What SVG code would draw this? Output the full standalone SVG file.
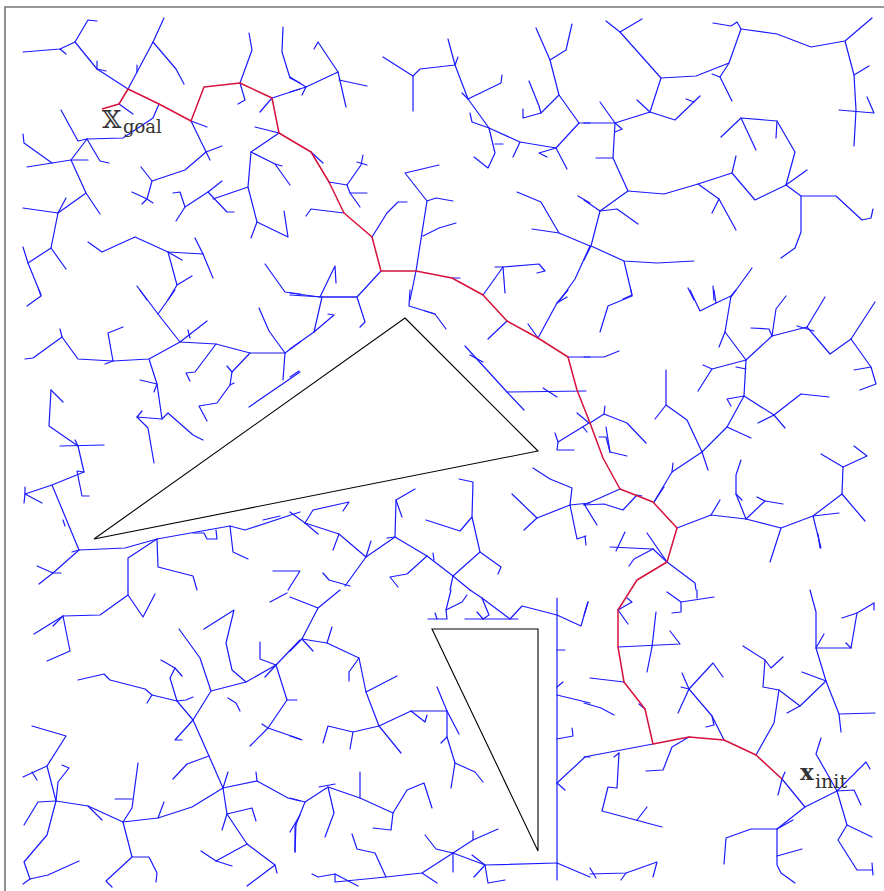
<svg xmlns="http://www.w3.org/2000/svg" width="884" height="891" viewBox="0 0 884 891">
<style>
.b{fill:none;stroke:#1a1aff;stroke-width:1.2;stroke-linejoin:round;stroke-linecap:round}
.r{fill:none;stroke:#d6123c;stroke-width:1.5;stroke-linejoin:round}
.o{fill:none;stroke:#000;stroke-width:1.1;stroke-linejoin:miter}
.lbl{fill:#333;font-family:"DejaVu Serif","Liberation Serif",serif}
</style>
<rect width="884" height="891" fill="#fff"/>
<path d="M5,895 V7 H890" fill="none" stroke="#777" stroke-width="1.6"/>
<g id="obstacles">
<polygon id="obstacle1" class="o" points="405,318 538,451 94,539"/>
<polygon id="obstacle2" class="o" points="432,629 538,629 538,851"/>
</g>
<g id="tree">
<!-- zoom1 region -->
<polyline class="b" points="23,52 60,49 75,42 88,20 97,21"/>
<polyline class="b" points="60,49 66,54"/>
<polyline class="b" points="75,42 97,69 128,89"/>
<polyline class="b" points="97,69 106,71"/>
<polyline class="b" points="97,61 97,69"/>
<polyline class="b" points="128,89 153,42 164,18"/>
<polyline class="b" points="153,42 176,69 184,84"/>
<polyline class="b" points="137,65 137,72"/>
<polyline class="b" points="119,104 133,114"/>
<polyline class="b" points="159,104 153,118 123,138 87,139"/>
<polyline class="b" points="87,139 71,160 52,163 27,167"/>
<polyline class="b" points="61,110 78,141 87,139"/>
<polyline class="b" points="87,139 100,161 109,163"/>
<polyline class="b" points="71,160 88,160"/>
<polyline class="b" points="52,163 24,143 23,134"/>
<polyline class="b" points="71,160 86,193 100,214"/>
<polyline class="b" points="86,193 58,213 51,248 28,263 41,295"/>
<polyline class="b" points="58,213 23,208"/>
<polyline class="b" points="58,213 66,198"/>
<polyline class="b" points="51,248 66,269"/>
<polyline class="b" points="28,263 23,247"/>
<polyline class="b" points="191,121 207,127"/>
<polyline class="b" points="191,121 210,160"/>
<polyline class="b" points="206,152 222,146"/>
<polyline class="b" points="206,152 185,170 152,181 141,167"/>
<polyline class="b" points="152,181 147,199 153,203"/>
<polyline class="b" points="132,192 147,199 142,204"/>
<polyline class="b" points="240,83 245,100 238,104"/>
<polyline class="b" points="240,83 252,50 249,33"/>
<polyline class="b" points="283,27 282,52 290,78 300,83"/>
<polyline class="b" points="272,98 260,112"/>
<polyline class="b" points="272,98 300,89"/>
<polyline class="b" points="279,133 255,127"/>
<polyline class="b" points="279,133 251,152 248,187 257,222 288,237 284,211"/>
<polyline class="b" points="257,222 251,238"/>
<polyline class="b" points="251,152 275,164 290,185"/>
<polyline class="b" points="275,164 282,166"/>
<polyline class="b" points="248,187 213,199"/>
<polyline class="b" points="222,181 208,192 185,207 176,221"/>
<polyline class="b" points="208,192 227,212 234,212"/>
<polyline class="b" points="185,207 180,192 173,193"/>
<polyline class="b" points="88,242 102,252 135,237 168,252 177,285 168,300"/>
<polyline class="b" points="168,252 203,254 213,278"/>
<polyline class="b" points="195,238 203,254"/>
<polyline class="b" points="177,285 192,276"/>
<polyline class="b" points="168,252 182,260"/>
<polyline class="b" points="265,264 285,292 300,294"/>
<polyline class="b" points="137,286 147,300"/>
<!-- zoom2 region -->
<polyline class="b" points="290,77 306,87 338,72 318,42 314,49"/>
<polyline class="b" points="290,92 306,87 302,95"/>
<polyline class="b" points="338,72 346,107"/>
<polyline class="b" points="339,80 367,86"/>
<polyline class="b" points="383,57 413,76 413,111"/>
<polyline class="b" points="413,76 420,69 455,65 448,39"/>
<polyline class="b" points="455,65 458,57"/>
<polyline class="b" points="455,65 468,99 489,128 520,142 556,148 579,123 590,123"/>
<polyline class="b" points="468,99 501,83 502,75"/>
<polyline class="b" points="462,93 468,99"/>
<polyline class="b" points="489,128 472,122 470,113"/>
<polyline class="b" points="489,128 495,153 488,168 474,157"/>
<polyline class="b" points="495,144 503,144"/>
<polyline class="b" points="520,142 513,157"/>
<polyline class="b" points="556,148 567,169"/>
<polyline class="b" points="556,148 539,153 547,157"/>
<polyline class="b" points="579,123 559,95 550,60 536,28"/>
<polyline class="b" points="550,60 566,50 572,24"/>
<polyline class="b" points="559,95 541,113 523,118 523,109"/>
<polyline class="b" points="541,113 539,106 529,81"/>
<polyline class="b" points="311,152 323,163"/>
<polyline class="b" points="329,182 347,185 361,165 363,155"/>
<polyline class="b" points="357,162 367,165"/>
<polyline class="b" points="347,185 350,193 360,207"/>
<polyline class="b" points="350,193 367,193"/>
<polyline class="b" points="344,213 311,209 306,216"/>
<polyline class="b" points="372,237 387,213 398,202 407,202"/>
<polyline class="b" points="416,271 427,201 405,173 439,165"/>
<polyline class="b" points="427,201 436,198 453,201"/>
<polyline class="b" points="423,236 439,228 456,223"/>
<polyline class="b" points="416,271 410,300"/>
<polyline class="b" points="381,271 357,297 320,297 290,293"/>
<polyline class="b" points="320,297 335,266 336,283"/>
<polyline class="b" points="452,278 460,278"/>
<polyline class="b" points="483,295 503,267 539,264 545,271 537,273"/>
<polyline class="b" points="503,267 505,293"/>
<polyline class="b" points="495,267 503,267"/>
<polyline class="b" points="517,192 541,202 559,233 590,246"/>
<polyline class="b" points="532,229 559,233"/>
<polyline class="b" points="590,246 575,279 560,300"/>
<polyline class="b" points="578,196 590,203"/>
<!-- zoom3 region -->
<polyline class="b" points="606,21 620,32 642,19"/>
<polyline class="b" points="620,32 661,78 650,112 615,123 584,123"/>
<polyline class="b" points="661,78 696,76 729,63 741,29 737,22 731,26 713,23"/>
<polyline class="b" points="741,29 777,34 811,47 845,41 872,18"/>
<polyline class="b" points="845,41 854,75 856,110 854,146"/>
<polyline class="b" points="854,75 869,66"/>
<polyline class="b" points="839,110 874,113 867,97"/>
<polyline class="b" points="729,63 720,77 732,101"/>
<polyline class="b" points="712,74 720,77"/>
<polyline class="b" points="650,112 637,100"/>
<polyline class="b" points="650,112 675,120 700,96"/>
<polyline class="b" points="686,99 694,102"/>
<polyline class="b" points="615,123 600,102"/>
<polyline class="b" points="615,123 622,129 615,132"/>
<polyline class="b" points="615,123 613,158 628,191 600,211 584,200"/>
<polyline class="b" points="613,158 596,158"/>
<polyline class="b" points="628,191 664,194 698,184 732,173 755,200 786,185 801,196 836,196 862,220 871,218 873,209"/>
<polyline class="b" points="732,173 736,156"/>
<polyline class="b" points="698,184 719,199 736,230"/>
<polyline class="b" points="719,199 712,213"/>
<polyline class="b" points="786,185 795,152 777,121 741,118 721,137"/>
<polyline class="b" points="777,121 776,138"/>
<polyline class="b" points="741,118 756,150"/>
<polyline class="b" points="786,185 807,170"/>
<polyline class="b" points="801,196 801,232 795,248 781,258"/>
<polyline class="b" points="600,211 617,209 638,224"/>
<polyline class="b" points="600,211 591,246 584,260"/>
<polyline class="b" points="591,246 624,261 657,263 694,261"/>
<polyline class="b" points="624,261 632,295 623,299"/>
<polyline class="b" points="731,297 752,268"/>
<polyline class="b" points="688,288 694,300"/>
<polyline class="b" points="713,286 714,300"/>
<!-- zoom4 region -->
<polyline class="b" points="27,306 41,296 39,290"/>
<polyline class="b" points="140,290 158,314 175,290"/>
<polyline class="b" points="158,314 180,342 207,321"/>
<polyline class="b" points="188,330 190,338"/>
<polyline class="b" points="180,342 216,344 250,353 285,353 300,342"/>
<polyline class="b" points="216,344 195,372 186,373 190,381"/>
<polyline class="b" points="250,353 232,372 230,385 217,403 199,406 207,421"/>
<polyline class="b" points="227,366 232,372"/>
<polyline class="b" points="230,385 234,383"/>
<polyline class="b" points="285,353 269,331 259,308"/>
<polyline class="b" points="300,372 249,407"/>
<polyline class="b" points="285,353 283,380"/>
<polyline class="b" points="180,342 149,359 113,361 78,359 62,337 33,358 25,359"/>
<polyline class="b" points="62,337 60,329"/>
<polyline class="b" points="113,361 108,333 123,327"/>
<polyline class="b" points="105,364 113,361"/>
<polyline class="b" points="149,359 157,384 162,419 168,413 193,435 203,440"/>
<polyline class="b" points="140,380 157,384 154,392"/>
<polyline class="b" points="162,419 137,417 148,428 154,463"/>
<polyline class="b" points="137,417 142,411"/>
<polyline class="b" points="51,390 63,402"/>
<polyline class="b" points="51,390 49,426 78,446 84,472 52,485 25,494 24,503"/>
<polyline class="b" points="25,494 42,503"/>
<polyline class="b" points="25,487 25,494"/>
<polyline class="b" points="60,446 104,445"/>
<polyline class="b" points="75,440 78,446"/>
<polyline class="b" points="84,472 77,471 82,496 89,496"/>
<polyline class="b" points="52,485 79,550 53,573 39,584"/>
<polyline class="b" points="79,550 72,552"/>
<polyline class="b" points="37,566 53,573 61,573"/>
<polyline class="b" points="63,520 65,526"/>
<polyline class="b" points="79,550 125,548 157,539 185,534 230,526 245,530 300,512"/>
<polyline class="b" points="157,539 158,567 193,576 197,590"/>
<polyline class="b" points="157,539 128,558 128,590"/>
<polyline class="b" points="193,533 204,533 207,539 217,539 216,530"/>
<polyline class="b" points="230,526 233,552 248,559"/>
<polyline class="b" points="273,571 300,571 288,590"/>
<polyline class="b" points="263,520 280,516"/>
<!-- zoom5 region -->
<polyline class="b" points="290,295 322,297 357,297 365,322 360,327"/>
<polyline class="b" points="322,297 314,332 290,349"/>
<polyline class="b" points="314,332 334,315 328,314"/>
<polyline class="b" points="299,371 290,377"/>
<polyline class="b" points="410,290 409,306 435,314 446,329"/>
<polyline class="b" points="425,311 435,314"/>
<polyline class="b" points="465,346 507,392 524,410"/>
<polyline class="b" points="470,355 483,362"/>
<polyline class="b" points="507,392 586,391"/>
<polyline class="b" points="543,388 557,397"/>
<polyline class="b" points="507,321 488,339"/>
<polyline class="b" points="538,338 557,303 568,290"/>
<polyline class="b" points="528,324 538,338"/>
<polyline class="b" points="557,303 567,297"/>
<polyline class="b" points="568,357 590,357"/>
<polyline class="b" points="589,423 577,413"/>
<polyline class="b" points="589,423 558,442 555,433"/>
<polyline class="b" points="558,442 557,450 574,450"/>
<polyline class="b" points="583,427 587,432"/>
<polyline class="b" points="459,479 473,482 472,517 460,531 426,520"/>
<polyline class="b" points="472,517 480,552 453,576 470,590"/>
<polyline class="b" points="480,552 501,567 498,574"/>
<polyline class="b" points="453,576 450,590"/>
<polyline class="b" points="453,576 427,556 395,537 396,500 415,489"/>
<polyline class="b" points="396,500 402,517"/>
<polyline class="b" points="395,537 366,557 345,586"/>
<polyline class="b" points="387,538 395,537"/>
<polyline class="b" points="366,557 371,541"/>
<polyline class="b" points="427,556 407,574 390,577 398,587"/>
<polyline class="b" points="433,553 434,560"/>
<polyline class="b" points="366,557 339,534 305,523 290,512"/>
<polyline class="b" points="339,534 333,550"/>
<polyline class="b" points="305,523 313,510 349,502 343,511"/>
<polyline class="b" points="305,523 318,534"/>
<polyline class="b" points="323,573 329,580 350,586"/>
<polyline class="b" points="533,468 550,479 572,488 570,505 577,539 586,536"/>
<polyline class="b" points="585,536 586,545"/>
<polyline class="b" points="570,505 537,518 512,494"/>
<polyline class="b" points="537,518 524,530"/>
<polyline class="b" points="570,505 590,503"/>
<!-- zoom6 region -->
<polyline class="b" points="631,290 632,296 608,306 600,332"/>
<polyline class="b" points="690,290 700,311 716,303 731,296 736,290"/>
<polyline class="b" points="714,290 716,303"/>
<polyline class="b" points="731,296 725,332 719,347"/>
<polyline class="b" points="725,332 746,360 744,396 727,427 702,452 672,472 654,502"/>
<polyline class="b" points="746,360 712,369 698,391"/>
<polyline class="b" points="703,365 712,369"/>
<polyline class="b" points="736,367 746,369"/>
<polyline class="b" points="746,360 772,336 807,327 825,297"/>
<polyline class="b" points="772,336 776,309 786,296"/>
<polyline class="b" points="751,328 769,329 772,336"/>
<polyline class="b" points="807,327 830,354 851,339 875,302"/>
<polyline class="b" points="851,339 871,367 876,384 860,390"/>
<polyline class="b" points="854,370 871,367"/>
<polyline class="b" points="797,326 814,331"/>
<polyline class="b" points="744,396 774,415 801,394 829,397"/>
<polyline class="b" points="774,415 758,423"/>
<polyline class="b" points="774,415 785,428"/>
<polyline class="b" points="744,396 727,399 731,406"/>
<polyline class="b" points="727,427 751,438"/>
<polyline class="b" points="702,452 687,420 666,405 666,370"/>
<polyline class="b" points="666,405 655,419"/>
<polyline class="b" points="702,452 708,470"/>
<polyline class="b" points="672,472 673,463"/>
<polyline class="b" points="654,502 664,487"/>
<polyline class="b" points="677,528 711,515 746,519 781,528 813,516 842,494 843,467 867,456 854,446"/>
<polyline class="b" points="843,467 821,454"/>
<polyline class="b" points="842,494 865,521"/>
<polyline class="b" points="711,515 720,500"/>
<polyline class="b" points="746,519 736,494 736,475 741,460"/>
<polyline class="b" points="736,494 742,500"/>
<polyline class="b" points="746,519 765,501 783,504"/>
<polyline class="b" points="757,497 765,501"/>
<polyline class="b" points="781,528 770,562"/>
<polyline class="b" points="813,516 821,548"/>
<polyline class="b" points="813,516 839,513"/>
<polyline class="b" points="818,534 820,548"/>
<polyline class="b" points="667,562 695,583 696,590"/>
<polyline class="b" points="667,562 647,533"/>
<polyline class="b" points="667,562 653,549 610,547"/>
<polyline class="b" points="653,549 634,559 629,566"/>
<polyline class="b" points="625,532 616,551"/>
<polyline class="b" points="620,489 584,505"/>
<polyline class="b" points="584,505 604,504 623,510 637,495 642,496"/>
<polyline class="b" points="590,423 604,414 627,423 646,443"/>
<polyline class="b" points="604,414 605,406"/>
<polyline class="b" points="599,437 606,437 610,452 627,456"/>
<polyline class="b" points="610,452 606,427"/>
<polyline class="b" points="584,504 597,525"/>
<polyline class="b" points="584,357 604,357 619,351"/>
<!-- zoom7 region -->
<polyline class="b" points="34,634 63,616 100,615 128,595 143,617 155,594"/>
<polyline class="b" points="128,595 128,590"/>
<polyline class="b" points="63,616 70,651 47,661"/>
<polyline class="b" points="53,626 63,616"/>
<polyline class="b" points="78,680 104,674 110,680 145,689 152,695 177,701 193,720 209,756 223,788 257,781 288,798 300,801"/>
<polyline class="b" points="152,695 147,703"/>
<polyline class="b" points="177,701 170,678 175,668 182,676"/>
<polyline class="b" points="161,660 175,668"/>
<polyline class="b" points="177,701 186,700 193,697"/>
<polyline class="b" points="193,720 175,740 182,740"/>
<polyline class="b" points="193,720 211,691 200,658 179,629"/>
<polyline class="b" points="211,691 246,682 232,670 226,643 234,610 204,629"/>
<polyline class="b" points="246,682 276,665 300,640"/>
<polyline class="b" points="276,665 260,659 260,642"/>
<polyline class="b" points="276,665 265,677"/>
<polyline class="b" points="276,665 287,700 268,728 250,746"/>
<polyline class="b" points="268,728 300,739"/>
<polyline class="b" points="268,728 262,724"/>
<polyline class="b" points="287,700 297,700"/>
<polyline class="b" points="228,698 236,703 240,711"/>
<polyline class="b" points="209,756 187,764 173,779"/>
<polyline class="b" points="223,788 227,814 247,844 275,865 247,886"/>
<polyline class="b" points="275,865 277,873"/>
<polyline class="b" points="227,814 252,808 256,821"/>
<polyline class="b" points="227,814 222,830"/>
<polyline class="b" points="223,788 228,772"/>
<polyline class="b" points="257,781 256,772"/>
<polyline class="b" points="247,844 216,861 201,851"/>
<polyline class="b" points="216,861 232,866"/>
<polyline class="b" points="223,788 192,807 158,818 123,822 88,806 56,801 47,766 66,736 32,726"/>
<polyline class="b" points="158,818 164,802"/>
<polyline class="b" points="123,822 132,857 149,857 157,873 156,882"/>
<polyline class="b" points="132,857 106,881 112,887"/>
<polyline class="b" points="123,822 132,808 138,763"/>
<polyline class="b" points="115,799 132,799"/>
<polyline class="b" points="88,806 102,820"/>
<polyline class="b" points="56,801 47,835 24,862 30,879 48,875 79,861"/>
<polyline class="b" points="30,879 23,884"/>
<polyline class="b" points="56,801 38,802 24,825"/>
<polyline class="b" points="47,766 23,777"/>
<polyline class="b" points="32,772 37,780"/>
<polyline class="b" points="56,801 58,782 69,768 62,765"/>
<polyline class="b" points="300,815 290,832"/>
<polyline class="b" points="296,823 295,852"/>
<polyline class="b" points="270,602 287,593"/>
<!-- zoom8 region -->
<polyline class="b" points="290,597 318,608 340,590"/>
<polyline class="b" points="318,608 302,639 290,651"/>
<polyline class="b" points="302,639 313,651"/>
<polyline class="b" points="302,639 327,643 359,658 349,672 349,681"/>
<polyline class="b" points="327,643 332,627"/>
<polyline class="b" points="359,658 366,692 379,726 401,753"/>
<polyline class="b" points="366,692 397,676"/>
<polyline class="b" points="379,726 353,732 328,726 323,743"/>
<polyline class="b" points="353,732 350,749"/>
<polyline class="b" points="379,726 411,711 447,711 447,737 455,763 475,772 483,782"/>
<polyline class="b" points="411,711 425,722 427,715"/>
<polyline class="b" points="447,711 437,687"/>
<polyline class="b" points="447,711 459,734"/>
<polyline class="b" points="455,763 451,788"/>
<polyline class="b" points="447,737 441,743"/>
<polyline class="b" points="290,736 302,740"/>
<polyline class="b" points="290,798 305,802 295,827 295,852"/>
<polyline class="b" points="305,802 328,787 334,813 325,837"/>
<polyline class="b" points="328,787 360,798 393,813 391,830 373,828"/>
<polyline class="b" points="360,798 360,772"/>
<polyline class="b" points="393,813 407,790 424,783 432,808"/>
<polyline class="b" points="319,787 335,784"/>
<polyline class="b" points="312,874 318,877 335,874 358,886"/>
<polyline class="b" points="335,874 335,882 386,877 422,873 453,853 473,840 498,829"/>
<polyline class="b" points="422,873 437,883"/>
<polyline class="b" points="453,853 485,865 557,863"/>
<polyline class="b" points="453,853 453,872"/>
<polyline class="b" points="425,835 436,849 453,853"/>
<polyline class="b" points="485,865 488,883 505,880"/>
<polyline class="b" points="472,855 485,865 474,877"/>
<polyline class="b" points="473,840 473,831"/>
<polyline class="b" points="352,834 357,849 375,853 386,877"/>
<polyline class="b" points="557,598 557,880"/>
<polyline class="b" points="557,863 590,877"/>
<polyline class="b" points="557,615 522,606 510,619 482,598 470,590"/>
<polyline class="b" points="557,615 581,626 588,602"/>
<polyline class="b" points="465,619 518,619"/>
<polyline class="b" points="482,598 489,615 483,619"/>
<polyline class="b" points="477,612 483,619"/>
<polyline class="b" points="428,619 447,619 446,610 462,602 467,595"/>
<polyline class="b" points="446,610 451,590"/>
<polyline class="b" points="435,613 437,619"/>
<polyline class="b" points="557,650 565,650"/>
<polyline class="b" points="557,687 563,682"/>
<polyline class="b" points="557,695 590,703"/>
<polyline class="b" points="557,739 573,736 572,728"/>
<polyline class="b" points="557,783 585,757 590,757"/>
<polyline class="b" points="557,783 565,790"/>
<!-- zoom9 region -->
<polyline class="b" points="584,615 588,602"/>
<polyline class="b" points="618,610 632,602 627,598"/>
<polyline class="b" points="618,610 628,624"/>
<polyline class="b" points="667,592 681,602 714,597"/>
<polyline class="b" points="681,602 681,612 672,613"/>
<polyline class="b" points="697,590 697,598"/>
<polyline class="b" points="618,647 680,644 670,631"/>
<polyline class="b" points="652,647 656,612"/>
<polyline class="b" points="652,647 647,672"/>
<polyline class="b" points="624,682 590,678"/>
<polyline class="b" points="584,703 601,708 614,715"/>
<polyline class="b" points="645,709 639,704"/>
<polyline class="b" points="653,744 584,757"/>
<polyline class="b" points="619,753 617,788 608,787 602,811 662,827"/>
<polyline class="b" points="637,820 647,807"/>
<polyline class="b" points="619,753 614,757"/>
<polyline class="b" points="689,737 672,747 663,770 646,771"/>
<polyline class="b" points="724,740 712,716 689,689 713,663 723,677"/>
<polyline class="b" points="689,689 682,673"/>
<polyline class="b" points="689,689 678,713"/>
<polyline class="b" points="712,716 714,725 706,727"/>
<polyline class="b" points="681,687 689,689"/>
<polyline class="b" points="756,755 774,723 779,690 763,687 765,660 743,646"/>
<polyline class="b" points="765,660 771,668 783,657"/>
<polyline class="b" points="779,690 800,706 826,681 802,672"/>
<polyline class="b" points="800,706 787,713"/>
<polyline class="b" points="826,681 816,648 816,612 810,590"/>
<polyline class="b" points="816,648 851,648 857,613 874,603"/>
<polyline class="b" points="857,613 842,618"/>
<polyline class="b" points="816,648 824,634"/>
<polyline class="b" points="851,648 846,643"/>
<polyline class="b" points="874,603 874,610"/>
<polyline class="b" points="826,681 839,714 841,732"/>
<polyline class="b" points="839,714 875,713"/>
<polyline class="b" points="782,779 778,795"/>
<polyline class="b" points="782,779 785,772"/>
<polyline class="b" points="782,779 805,807 837,791 847,825 872,837"/>
<polyline class="b" points="837,791 866,762 870,769"/>
<polyline class="b" points="837,791 816,754 821,738"/>
<polyline class="b" points="837,791 854,790 861,805"/>
<polyline class="b" points="847,825 838,840 857,870 872,870"/>
<polyline class="b" points="872,863 873,875"/>
<polyline class="b" points="805,807 777,829 751,829 726,838 724,864"/>
<polyline class="b" points="777,829 777,865 781,873 795,883"/>
<polyline class="b" points="777,856 802,849"/>
<polyline class="b" points="777,829 793,820"/>
<polyline class="b" points="590,874 626,873 657,862 653,877"/>
<polyline class="b" points="626,873 621,880"/>
<polyline class="b" points="590,868 596,878"/>
</g>
<g id="path">
<polyline class="r" points="782,779 756,755 724,740 689,737 653,744 645,709 624,682 618,647 618,610 637,580 667,562 677,528 653,502 620,489 603,458 590,423 577,390 568,357 538,338 507,321 483,295 452,278 416,271 381,271 372,237 344,213 329,182 311,152 279,133 272,98 240,83 204,87 191,121 159,104 128,89 119,104 102,109"/>
</g>
<g id="goal">
<text class="lbl" x="102" y="128" font-size="25">𝕏</text>
<text class="lbl" x="123" y="133" font-size="18">goal</text>
</g>
<g id="init">
<text class="lbl" x="800" y="780" font-size="23" font-weight="bold">x</text>
<text class="lbl" x="815" y="788" font-size="19">init</text>
</g>
</svg>
